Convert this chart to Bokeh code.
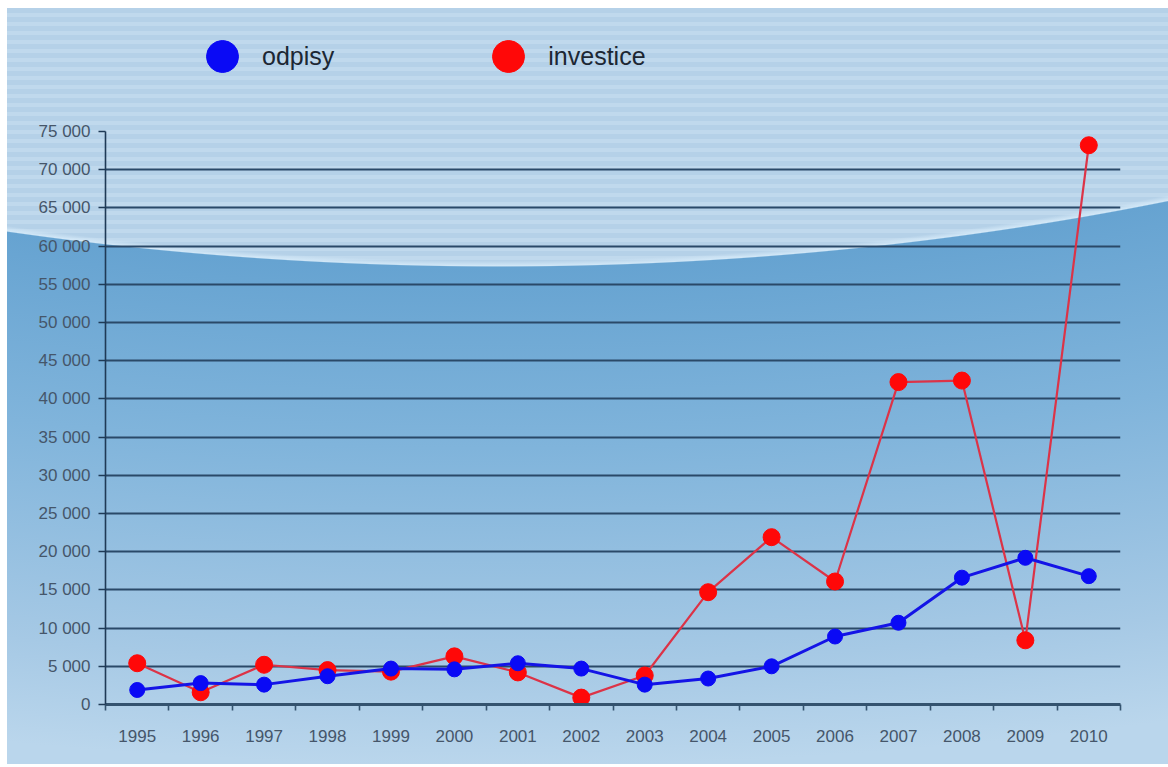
from bokeh.plotting import figure
from bokeh.models import (Range1d, FactorRange, LinearAxis, CategoricalAxis, FixedTicker,
                          Legend, LegendItem)
from bokeh.embed import file_html
from bokeh.resources import INLINE

# ---- data ----
years = ["1995", "1996", "1997", "1998", "1999", "2000", "2001", "2002",
         "2003", "2004", "2005", "2006", "2007", "2008", "2009", "2010"]
odpisy = [1900, 2800, 2600, 3700, 4700, 4600, 5400, 4700,
          2600, 3400, 5000, 8900, 10700, 16600, 19200, 16800]
investice = [5400, 1600, 5200, 4500, 4300, 6300, 4200, 900,
             3800, 14700, 21900, 16100, 42200, 42400, 8400, 73200]
y_ticks = [0, 5000, 10000, 15000, 20000, 25000, 30000, 35000, 40000,
           45000, 50000, 55000, 60000, 65000, 70000, 75000]
y_tick_labels = ["0", "5 000", "10 000", "15 000", "20 000", "25 000", "30 000",
                 "35 000", "40 000", "45 000", "50 000", "55 000", "60 000",
                 "65 000", "70 000", "75 000"]
series_names = ["odpisy", "investice"]

# ---- background (CSS on the host element) ----
bg_css = {
    "background-color": "#ffffff",
    "background-image": (
        "radial-gradient(ellipse 2000px 1134px at 492px -875px, "
        "rgba(0,0,0,0) 0%, rgba(0,0,0,0) 99.45%, rgba(212,233,248,0.9) 99.9%, "
        "#66a3d1 100%, #80b4db 116%, #a6c9e5 135%, #bad6ec 144%), "
        "repeating-linear-gradient(to bottom, #b5d1e8 0px, #b5d1e8 5px, "
        "#c0d9ed 5px, #c0d9ed 9px)"
    ),
    "background-position": "7px 8px, 7px 8px",
    "background-size": "1161px 756px, 1161px 756px",
    "background-repeat": "no-repeat, no-repeat",
}

# frame spans from the canvas top down to the x axis; the y axis is bounded to 0..75000
y_top = 75000 * 704 / 573

p = figure(width=1168, height=767, output_backend="svg", toolbar_location=None,
           x_range=FactorRange(factors=years), y_range=Range1d(0, y_top),
           x_axis_location=None, y_axis_location=None,
           min_border_left=105, min_border_right=48, min_border_top=0,
           min_border_bottom=63,
           border_fill_color=None, background_fill_color=None,
           outline_line_color=None, styles=bg_css)

p.xgrid.visible = False
p.ygrid.ticker = FixedTicker(ticks=y_ticks[1:-1])
p.ygrid.grid_line_color = "#2a4968"
p.ygrid.grid_line_width = 2.2

label_color = "#45566a"
font = "Liberation Sans"

yax = LinearAxis(ticker=FixedTicker(ticks=y_ticks), bounds=(0, 75000),
                 major_label_overrides={t: l for t, l in zip(y_ticks, y_tick_labels)},
                 axis_line_color="#1f3a56", axis_line_width=1.6,
                 major_tick_line_color="#1f3a56", major_tick_line_width=1.6,
                 major_tick_out=7, major_tick_in=0, minor_tick_out=0, minor_tick_in=0,
                 major_label_standoff=8, major_label_text_font_size="17px",
                 major_label_text_color=label_color, major_label_text_font=font)
p.add_layout(yax, "left")

# tick marks at the category boundaries (no labels)
xticks_axis = LinearAxis(ticker=FixedTicker(ticks=list(range(len(years) + 1))),
                         major_label_text_font_size="0px", major_label_text_alpha=0,
                         major_label_standoff=0,
                         axis_line_color="#34536f", axis_line_width=3,
                         major_tick_line_color="#34536f", major_tick_line_width=1.6,
                         major_tick_out=6, major_tick_in=0,
                         minor_tick_out=0, minor_tick_in=0)
p.add_layout(xticks_axis, "below")

# category labels (no ticks)
xlab_axis = CategoricalAxis(axis_line_color=None,
                            major_tick_line_color=None, minor_tick_line_color=None,
                            major_label_standoff=13, major_label_text_font_size="17px",
                            major_label_text_color=label_color, major_label_text_font=font)
p.add_layout(xlab_axis, "below")

# ---- series ----
p.line(x=years, y=investice, line_color="#dc3347", line_width=2.2)
r_inv = p.scatter(x=years, y=investice, marker="circle", size=17,
                  fill_color="#ff0808", line_color="#ff0808")
p.line(x=years, y=odpisy, line_color="#1414e6", line_width=3)
r_odp = p.scatter(x=years, y=odpisy, marker="circle", size=15,
                  fill_color="#0a0af5", line_color="#0a0af5")

legend = Legend(items=[LegendItem(label=series_names[0], renderers=[r_odp]),
                       LegendItem(label=series_names[1], renderers=[r_inv])],
                orientation="horizontal", location=(77, 608),
                glyph_width=80, glyph_height=80, label_standoff=0, spacing=134,
                padding=0, margin=0, background_fill_alpha=0, border_line_alpha=0,
                label_text_font_size="25px", label_text_color="#1c2733",
                label_text_font=font)
p.add_layout(legend, "center")

open("out.html", "w").write(file_html(p, INLINE))
